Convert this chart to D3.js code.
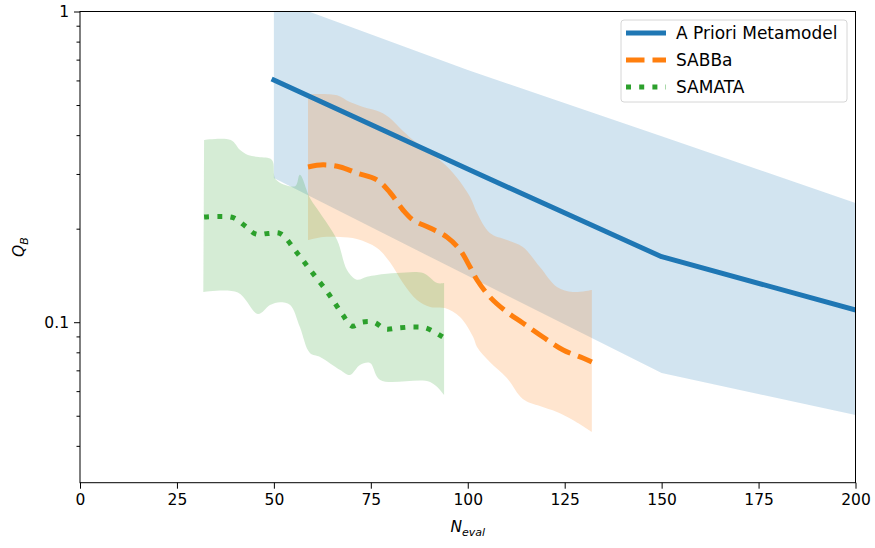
<!DOCTYPE html>
<html><head><meta charset="utf-8">
<script src="https://cdn.jsdelivr.net/npm/d3@7"></script>
<style>body{margin:0;background:#fff}svg{display:block}text{font-family:"DejaVu Sans",sans-serif}</style>
</head><body><svg id="c" width="875" height="548"></svg>
<script>
// ---- data ----
const xTicks = [0,25,50,75,100,125,150,175,200];
const yMajor = [1, 0.1];
const yMajorLabels = ["1", "0.1"];
const yMinor = [0.9,0.8,0.7,0.6,0.5,0.4,0.3,0.2,0.09,0.08,0.07,0.06,0.05,0.04];

const seriesNames = ["A Priori Metamodel", "SABBa", "SAMATA"];

const metaN    = [50, 100, 150, 200];
const metaMean = [0.602, 0.311, 0.1625, 0.1095];
const metaLow  = [0.291, 0.141, 0.0686, 0.0503];
const metaHigh = [1.1, 0.648, 0.397, 0.242];

const sabbaN    = [58.8, 62.7, 67.1, 71.4, 76.6, 79.9, 83.3, 85.9, 90.3, 94.6, 98, 100.6, 102.4, 105.7, 110.1, 114.2, 119.4, 124.6, 129.7, 132];
const sabbaMean = [0.316, 0.321, 0.316, 0.302, 0.287, 0.262, 0.2297, 0.2133, 0.201, 0.188, 0.1708, 0.1505, 0.1367, 0.1206, 0.1078, 0.0994, 0.0896, 0.0814, 0.0767, 0.0744];
const sabbaHighN = [58.8, 66.3, 69.6, 73, 77.4, 79.9, 82.5, 85.9, 92.1, 96.2, 100.6, 102.4, 105.7, 110.1, 114.2, 118.6, 123, 127.1, 132];
const sabbaHigh  = [0.542, 0.538, 0.511, 0.493, 0.475, 0.454, 0.422, 0.386, 0.338, 0.302, 0.253, 0.2246, 0.1937, 0.1838, 0.1746, 0.1505, 0.1298, 0.1251, 0.1269];
const sabbaLowN = [58.8, 62.7, 67.1, 71.4, 76.6, 79.9, 83.3, 86.9, 90.3, 94.1, 98, 101.4, 102.4, 105.7, 110.1, 114.2, 118.6, 123, 127.1, 132];
const sabbaLow  = [0.1838, 0.188, 0.188, 0.1852, 0.1733, 0.1562, 0.1337, 0.1179, 0.1119, 0.111, 0.1039, 0.0896, 0.0832, 0.0744, 0.0661, 0.0566, 0.0537, 0.0514, 0.0484, 0.0443];

const samataN    = [32, 36, 39.5, 42.6, 45.4, 48.5, 51.6, 56, 59.6, 64, 67.8, 70.1, 72.7, 75.8, 78.7, 82, 85.9, 89.2, 93.9];
const samataMean = [0.218, 0.219, 0.217, 0.204, 0.192, 0.193, 0.193, 0.167, 0.146, 0.124, 0.1054, 0.0972, 0.100, 0.100, 0.0951, 0.0958, 0.0965, 0.0958, 0.089];
const samataHighN = [32, 38.9, 41.3, 43.3, 46, 49.5, 50.5, 55.5, 56.7, 59.3, 61.9, 66.3, 68.9, 71.4, 74, 76.6, 81.8, 88.5, 92.1, 93.9];
const samataHigh  = [0.386, 0.386, 0.358, 0.345, 0.340, 0.333, 0.288, 0.274, 0.298, 0.251, 0.2246, 0.184, 0.147, 0.137, 0.140, 0.142, 0.144, 0.144, 0.1337, 0.1337];
const samataLowN = [31.8, 40.7, 45.9, 49, 51.6, 54.2, 56.7, 59.3, 61.9, 67.1, 69.6, 72.2, 74.8, 77.4, 90.3, 93.9];
const samataLow  = [0.125, 0.1246, 0.1063, 0.1136, 0.116, 0.1136, 0.0965, 0.0796, 0.0773, 0.0702, 0.0676, 0.0728, 0.0739, 0.0652, 0.0642, 0.0583];

// ---- layout ----
const svg = d3.select("#c");
const L = 80, R = 855.5, T = 11.5, B = 482.7;
const x = d3.scaleLinear().domain([0, 200]).range([L, R]);
const y = d3.scaleLog().domain([0.03044, 1]).range([B, T]);
const colors = ["#1f77b4", "#ff7f0e", "#2ca02c"];

svg.append("defs").append("clipPath").attr("id", "clip")
  .append("rect").attr("x", L).attr("y", T).attr("width", R - L).attr("height", B - T);

const plot = svg.append("g").attr("clip-path", "url(#clip)");
const zip = (xs, ys) => xs.map((v, i) => [v, ys[i]]);
const line = d3.line().x(d => x(d[0])).y(d => y(d[1]));
const smooth = d3.line().x(d => x(d[0])).y(d => y(d[1])).curve(d3.curveCatmullRom.alpha(0.5));

function band(hn, hv, ln, lv, c, curved) {
  const g = curved ? smooth : line;
  const up = g(zip(hn, hv));
  const lo = g(zip(ln, lv).reverse());
  plot.append("path").attr("d", up + "L" + lo.slice(1) + "Z")
    .attr("fill", c).attr("fill-opacity", 0.2).attr("stroke", "none");
}
band(metaN, metaHigh, metaN, metaLow, colors[0], false);
band(sabbaHighN, sabbaHigh, sabbaLowN, sabbaLow, colors[1], true);
band(samataHighN, samataHigh, samataLowN, samataLow, colors[2], true);

const lw = 5;
const dashes = [null, "18.5,8", "5,8.2"];
function drawLine(ns, vs, i, curved) {
  const p = plot.append("path").attr("d", (curved ? smooth : line)(zip(ns, vs)))
    .attr("fill", "none").attr("stroke", colors[i]).attr("stroke-width", lw)
    .attr("stroke-linejoin", "round").attr("stroke-linecap", i === 0 ? "square" : "butt");
  if (dashes[i]) p.attr("stroke-dasharray", dashes[i]);
}
drawLine(metaN, metaMean, 0, false);
drawLine(sabbaN, sabbaMean, 1, true);
drawLine(samataN, samataMean, 2, true);

// ---- axes ----
svg.append("rect").attr("x", L).attr("y", T).attr("width", R - L).attr("height", B - T)
  .attr("fill", "none").attr("stroke", "#000").attr("stroke-width", 1);

const xa = svg.append("g").attr("transform", `translate(0,${B})`)
  .call(d3.axisBottom(x).tickValues(xTicks).tickFormat(d3.format("d")).tickSize(6).tickPadding(5));
xa.select(".domain").remove();
xa.selectAll("text").attr("font-size", "15.5px").attr("fill", "#000").attr("font-family", "DejaVu Sans");

const ya = svg.append("g").attr("transform", `translate(${L},0)`)
  .call(d3.axisLeft(y).tickValues(yMajor).tickFormat((d, i) => yMajorLabels[i]).tickSize(6).tickPadding(5));
ya.select(".domain").remove();
ya.selectAll("text").attr("font-size", "15.5px").attr("fill", "#000").attr("font-family", "DejaVu Sans");

const ym = svg.append("g").attr("transform", `translate(${L},0)`)
  .call(d3.axisLeft(y).tickValues(yMinor).tickFormat("").tickSize(3.5));
ym.select(".domain").remove();

// axis labels
const xl = svg.append("text").attr("x", (L + R) / 2).attr("y", 532).attr("text-anchor", "middle")
  .attr("font-size", "15.5px").attr("font-style", "italic");
xl.append("tspan").text("N");
xl.append("tspan").attr("font-size", "11px").attr("dy", 4).text("eval");

const yl = svg.append("text").attr("transform", `translate(24,${(T + B) / 2}) rotate(-90)`)
  .attr("text-anchor", "middle").attr("font-size", "15.5px").attr("font-style", "italic");
yl.append("tspan").text("Q");
yl.append("tspan").attr("font-size", "11px").attr("dy", 4).text("B");

// ---- legend ----
const lg = svg.append("g");
lg.append("rect").attr("x", 621).attr("y", 20).attr("width", 226).attr("height", 82).attr("rx", 3)
  .attr("fill", "#fff").attr("fill-opacity", 0.8).attr("stroke", "#d6d6d6").attr("stroke-width", 1);
seriesNames.forEach((name, i) => {
  const yy = 33 + i * 27;
  const l = lg.append("line").attr("x1", 626).attr("x2", 666).attr("y1", yy).attr("y2", yy)
    .attr("stroke", colors[i]).attr("stroke-width", lw);
  if (dashes[i]) l.attr("stroke-dasharray", dashes[i]);
  lg.append("text").attr("x", 676).attr("y", yy + 6).attr("font-size", "17px").text(name);
});
</script></body></html>
